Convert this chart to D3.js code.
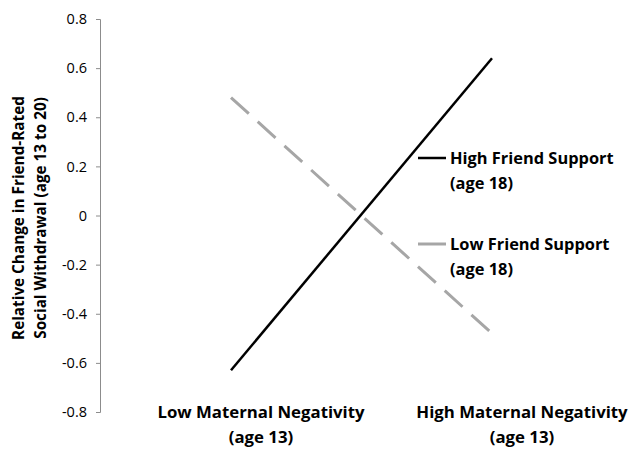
<!DOCTYPE html>
<html><head><meta charset="utf-8">
<script src="https://cdn.jsdelivr.net/npm/d3@7"></script>
<style>body{margin:0;background:#fff}svg{display:block}</style>
</head><body>
<svg id="c" width="632" height="450"></svg>
<script>
const categories = ["Low Maternal Negativity", "High Maternal Negativity"];
const categorySub = ["(age 13)", "(age 13)"];
const highSupport = [-0.63, 0.64];
const lowSupport = [0.48, -0.48];
const seriesNames = ["High Friend Support", "Low Friend Support"];
const seriesSub = ["(age 18)", "(age 18)"];
const yTicks = [-0.8, -0.6, -0.4, -0.2, 0, 0.2, 0.4, 0.6, 0.8];
const yTitle = ["Relative Change in Friend-Rated", "Social Withdrawal (age 13 to 20)"];

const svg = d3.select("#c");
const font = "'Open Sans', sans-serif";
const y = d3.scaleLinear().domain([-0.8, 0.8]).range([412, 19]);
const xLine = d3.scalePoint().domain(categories).range([231, 492]);
const xLab = d3.scalePoint().domain(categories).range([261, 522]);

// y axis
const ax = svg.append("g").attr("transform", "translate(100,0)")
  .call(d3.axisLeft(y).tickValues(yTicks).tickSize(4).tickPadding(9)
    .tickFormat(d => d === 0 ? "0" : d3.format(".1f")(d).replace("\u2212", "-")));
ax.select(".domain").attr("stroke", "#8c8c8c").attr("stroke-width", 1);
ax.selectAll(".tick line").attr("stroke", "#8c8c8c");
ax.selectAll(".tick text").attr("fill", "#000").attr("font-size", 14.5).attr("font-family", font);

// y title
yTitle.forEach((t, i) => {
  svg.append("text").attr("transform", `translate(${24 + i * 22},218) rotate(-90)`)
    .attr("text-anchor", "middle").attr("font-family", font).attr("font-weight", "bold")
    .attr("font-size", 15.3).text(t);
});

// category labels
categories.forEach((c, i) => {
  const g = svg.append("text").attr("text-anchor", "middle").attr("font-family", font)
    .attr("font-weight", "bold").attr("font-size", 16.8);
  g.append("tspan").attr("x", xLab(c)).attr("y", 418).text(c);
  g.append("tspan").attr("x", xLab(c)).attr("y", 443).text(categorySub[i]);
});

const line = d3.line().x((d, i) => xLine(categories[i])).y(d => y(d));
svg.append("path").datum(lowSupport).attr("d", line).attr("fill", "none")
  .attr("stroke", "#a6a6a6").attr("stroke-width", 3).attr("stroke-dasharray", "24,12");
svg.append("path").datum(highSupport).attr("d", line).attr("fill", "none")
  .attr("stroke", "#000").attr("stroke-width", 2.5);

// legend
const legY = [158, 244];
const legStyle = [{c: "#000", w: 2.5}, {c: "#a6a6a6", w: 3}];
seriesNames.forEach((s, i) => {
  svg.append("line").attr("x1", 418).attr("x2", 446).attr("y1", legY[i]).attr("y2", legY[i])
    .attr("stroke", legStyle[i].c).attr("stroke-width", legStyle[i].w);
  const t = svg.append("text").attr("font-family", font).attr("font-weight", "bold").attr("font-size", 16.4);
  t.append("tspan").attr("x", 450).attr("y", legY[i] + 6).text(s);
  t.append("tspan").attr("x", 450).attr("y", legY[i] + 31).text(seriesSub[i]);
});
</script>
</body></html>
